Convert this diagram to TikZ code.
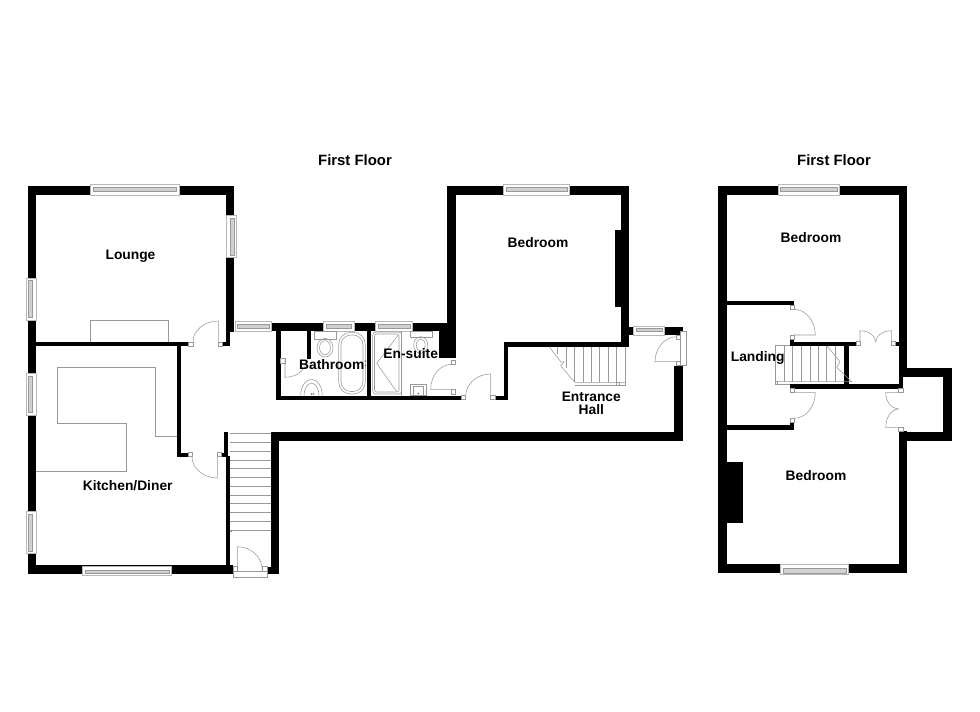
\documentclass[tikz,border=0pt]{standalone}
\usepackage{fontspec}
\setmainfont{Liberation Sans}
\usepackage{tikz}
\usetikzlibrary{calc}

\tikzset{
    wall/.style={fill=black,draw=none},
    fitting/.style={draw=black!40,line width=0.55pt},
    pane/.style={draw=black!40,fill=black!18,line width=0.5pt},
    frame/.style={draw=black!28,fill=white,line width=0.6pt},
    jamb/.style={draw=black!40,fill=white,line width=0.55pt},
    roomlabel/.style={font=\bfseries\fontsize{13.8}{14}\selectfont,text=black,align=center,inner sep=0pt},
    floorlabel/.style={font=\bfseries\fontsize{14.9}{15}\selectfont,text=black,inner sep=0pt},
}

\begin{document}
\begin{tikzpicture}[x=1pt,y=-1pt]
\useasboundingbox (0,0) rectangle (980,712);

% walls
\foreach \xa/\ya/\xb/\yb in {
    27.5/186/36/574, 27.5/186/234/195, 226/186/234/331.7, 226/331.7/230.3/346, 222.7/342/230.3/346,
    36/342/188/346.3, 176.7/346/181/456.7, 176.7/452.7/188/456.7,
    224/431.7/228.3/456.7, 221.7/452.7/226/456.7, 226/456/230/574, 27.5/565.3/233.3/574,
    267.3/566.7/279/574, 270.7/432.3/279/574, 270.7/432/682.7/440.5, 674.3/365.7/682.7/440.5,
    271.7/322.7/280.7/331, 276/322.7/280.7/400, 271.7/322.7/455.7/331, 276/395.7/461.7/400,
    306.7/331/311/359.3, 367.3/331/371.3/396, 439/331/455.7/358.3,
    446.7/186/455.7/358.3, 446.7/186/629.3/195, 621.3/186/629.3/346.7, 615.3/230/621.3/306.7,
    629/326.7/633.7/335, 664.3/326.7/682.7/335, 674.3/326.7/682.7/335,
    504/342.3/625/346.7, 504/342.3/508.3/400, 495/395.7/508.3/400,
    % second plan
    718.3/186/727/573, 718.3/186/907.3/195, 898.7/186/907.3/377, 898.7/377/903/388.7,
    718.3/564/907.3/572.7, 898.7/431/907.3/572.7, 898.7/368.3/952.3/377, 943.3/368.3/952.3/440.7,
    898.7/432/952.3/440.7, 727/300.7/794/305, 790/339.3/794/345.7, 790/341.7/856/345.7,
    895.7/341.7/898.7/345.7, 844.3/342/849/384.3, 790/384.3/903/388.7,
    790/422.7/794/429.7, 727/425.3/794/429.7, 727/462.3/743.3/523.3
}{
    \fill[wall] (\xa,\ya) rectangle (\xb,\yb);
}

% windows across the page, with the y range of the pane
\foreach \xa/\xb/\ya/\yb/\pa/\pb in {
    90.7/179/184/195/187/191, 82.7/171.7/566/575.5/570/573, 235/271.7/321.7/331.7/324.5/328,
    323.3/354/321.7/331.7/324.5/328, 375.7/412.3/321.7/331.7/324.5/328,
    503.3/569.3/184/195/187/191, 633.7/664.3/326/335.5/328.3/331.7,
    778/839.7/184/195/187/191, 780.7/848.3/564/574/568/573
}{
    \draw[frame] (\xa,\ya) rectangle (\xb,\yb);
    \draw[pane] (\xa+2.5,\pa) rectangle (\xb-2.5,\pb);
}
% windows down the page, with the x range of the pane
\foreach \ya/\yb/\xa/\xb/\pa/\pb in {
    215.7/257.7/226.7/236/230/234, 278/320/26.7/36/28.3/32.7,
    373.3/415/26.7/36/28.3/32.7, 511.7/553.3/26.7/36/28.3/32.7
}{
    \draw[frame] (\xa,\ya) rectangle (\xb,\yb);
    \draw[pane] (\pa,\ya+2.5) rectangle (\pb,\yb-2.5);
}

% door jambs
\foreach \xa/\ya/\xb/\yb in {
    188/342/193/346.3, 218.3/342/222.7/346.3, 188/452.7/192/456.7, 217.3/452.7/221.7/456.7,
    233.3/566/237.3/571.7, 262.3/566/267.3/571.7, 233.3/571.7/267.3/577.3,
    280.7/358.3/285/363.3, 451.7/360/455.7/364.3, 451.7/389.3/455.7/394.3,
    461.7/395.7/465.7/399.7, 490.7/395.7/495/399.7, 676.7/335/680.7/339, 676.7/361.7/680.7/365.7,
    680.7/331.7/686.3/365.7,
    790/305/794/309.3, 790/335/794/339.3, 856/341.7/860/345.7, 891.7/341.7/895.7/345.7,
    790/388.7/794/392.7, 790/418.3/794/422.7, 898.7/388.7/903/392.7, 898.7/427.3/903/431.7
}{
    \draw[jamb] (\xa,\ya) rectangle (\xb,\yb);
}

% door leaves: hinge, tip, latch
\foreach \hx/\hy/\tx/\ty/\lx/\ly in {
    218.3/342/218.3/321/193/342, 217.3/456.7/217.3/478/192/456.7, 237.3/570/237.3/546.7/262.3/570,
    285/359.3/285/377.3/306.7/359.3, 451.7/389.3/430.7/389.3/451.7/364.3,
    490.7/396/490.7/374/465.7/396, 676.7/361.7/655/361.7/676.7/336.7,
    794/335/815.3/335/794/309.3, 794/392.7/815.3/392.7/794/418.3,
    860/342/860/330.7/875.7/342, 891.7/342/891.7/330.7/875.7/342,
    898.7/392.7/885.7/392.7/898.7/409, 898.7/427.3/885.7/427.3/898.7/409
}{
    \draw[fitting] (\hx,\hy) -- (\tx,\ty)
        .. controls ($(\tx,\ty)+.55*(\lx,\ly)-.55*(\hx,\hy)$) and ($(\lx,\ly)+.55*(\tx,\ty)-.55*(\hx,\hy)$) .. (\lx,\ly);
}

% stairs
\draw[fitting] (230,433.7) -- (270.7,433.7);
\foreach \k in {1,...,11}{
    \draw[fitting] (230,433.7+8.74*\k) -- (270.7,433.7+8.74*\k);
}
\draw[fitting] (230,530) rectangle (231.5,531.5);

\foreach \x/\y in {557.3/354, 566/368, 574.7/382.3, 583.3/382.3, 591.7/382.3, 599.7/382.3, 608.3/382.3, 616.7/382.3}{
    \draw[fitting] (\x,346.7) -- (\x,\y);
}
\draw[fitting] (549.3,346.7) -- (560.7,361.7) -- (564.3,362) -- (560.7,365.7) -- (574.7,382.3) -- (625.3,382.3);
\draw[fitting] (574.7,385.3) -- (625.3,385.3) -- (625.3,346.7);
\draw[fitting] (616.7,382.3) rectangle (619.7,385.3);

\foreach \x/\y in {784/381.7, 792.7/381.7, 801.3/381.7, 810/381.7, 818.7/381.7, 826.7/381.7, 835.3/381.7}{
    \draw[fitting] (\x,345.7) -- (\x,\y);
}
\draw[fitting] (790,345.7) -- (775.7,345.7) -- (775.7,384.3) -- (790,384.3);
\draw[fitting] (775.7,381.7) -- (851.7,381.7) -- (836.7,367.3) -- (840,361.7) -- (826.7,345.7);
\draw[fitting] (775,381.7) rectangle (777.7,384.3);

% lounge and kitchen fittings
\draw[fitting] (90.3,342) -- (90.3,320.7) -- (168.7,320.7) -- (168.7,342);
\draw[fitting] (176.7,436.3) -- (155.3,436.3) -- (155.3,367.3) -- (57.3,367.3) -- (57.3,423.7)
    -- (126.7,423.7) -- (126.7,471.3) -- (36,471.3);

% bathroom fittings
\draw[fitting] (314.3,331) rectangle (336,339);
\draw[fitting] (325,347.7) ellipse (8 and 9.3);
\draw[fitting] (325,347.7) ellipse (5.5 and 7);
\draw[fitting,rounded corners=12pt] (338.7,332.3) rectangle (365.3,394);
\draw[fitting,rounded corners=10pt] (341,335) rectangle (363,391.5);
\draw[fitting] (300.7,395.7) arc (180:360:10.8 and 16.4);
\draw[fitting] (304,395.7) arc (180:360:7.5 and 12.5);
\foreach \x/\y in {311.5/394, 313.5/394, 365.5/361, 365.5/365.5}{
    \fill[black!60] (\x,\y) circle (0.9);
}

% en-suite fittings
\draw[fitting,rounded corners=3pt] (372.7,332) rectangle (401.7,394);
\draw[fitting,rounded corners=2pt] (374.5,334) rectangle (399,392);
\draw[fitting] (398.3,335) -- (376.7,363.3) -- (396.7,391.7);
\draw[fitting] (401.7,331) -- (401.7,396);
\draw[fitting] (410,331) rectangle (432,337.5);
\draw[fitting] (420.7,345) ellipse (7 and 8.3);
\draw[fitting] (420.7,345) ellipse (4.5 and 6);
\draw[fitting] (410.7,384) rectangle (426,395.7);
\draw[fitting] (413,386.5) rectangle (423.7,395.7);
\fill[black!60] (418.3,393.5) circle (0.9);

% room names
\node[roomlabel] (lounge) at (130.5,255.8) {Lounge};
\node[roomlabel] (kitchen) at (127.7,485.8) {Kitchen/Diner};
\node[roomlabel] (bathroom) at (331.7,364.3) {Bathroom};
\node[roomlabel] (ensuite) at (410.7,353.8) {En-suite};
\node[roomlabel] (bedroomA) at (538,242.3) {Bedroom};
\node[roomlabel] (entrance) at (591.3,403) {Entrance\\[-1pt]Hall};
\node[roomlabel] (bedroomB) at (811,238) {Bedroom};
\node[roomlabel] (landing) at (757.7,358) {Landing};
\node[roomlabel] (bedroomC) at (816,475.3) {Bedroom};
\node[floorlabel] (floorA) at (355,160) {First Floor};
\node[floorlabel] (floorB) at (834,160) {First Floor};
\end{tikzpicture}
\end{document}
